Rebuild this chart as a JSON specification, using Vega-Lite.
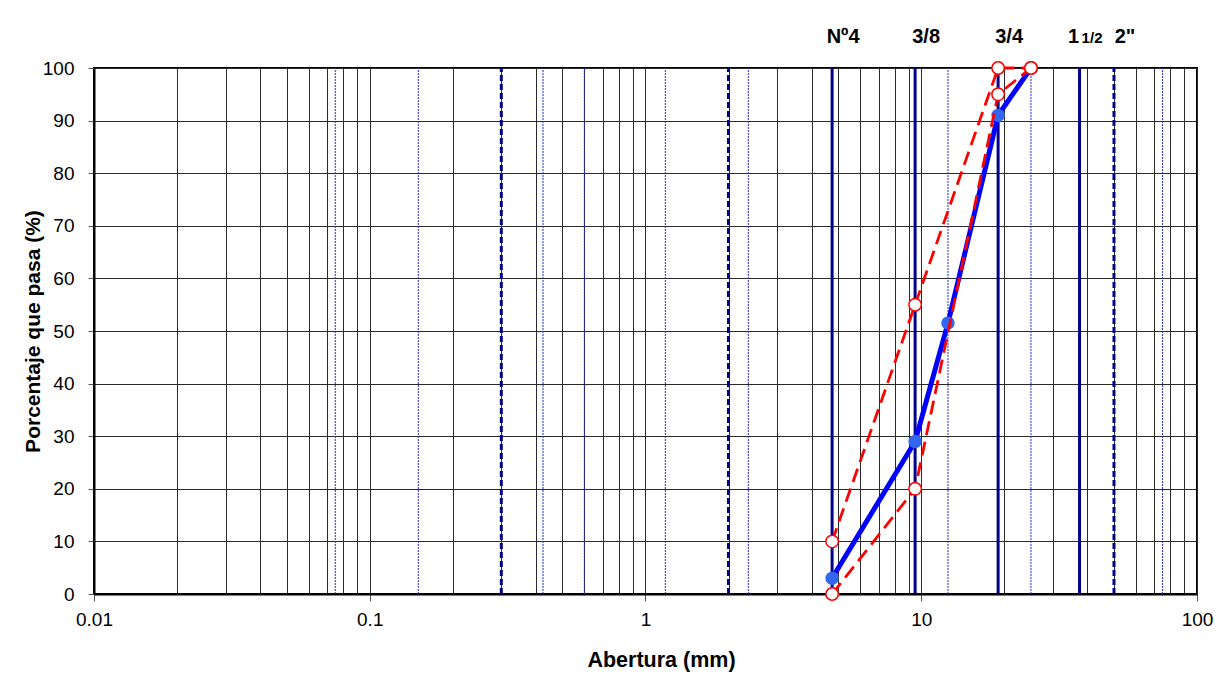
{
  "$schema": "https://vega.github.io/schema/vega-lite/v6.json",
  "width": 1103,
  "height": 526,
  "autosize": {"type": "none"},
  "padding": {"left": 94, "top": 68, "right": 33, "bottom": 92},
  "background": "white",
  "config": {
    "font": "Liberation Sans",
    "view": {"stroke": "#000000", "strokeWidth": 2},
    "axis": {"labelFont": "Liberation Sans", "titleFont": "Liberation Sans", "labelColor": "#000", "titleColor": "#000"}
  },
  "datasets": {
    "tamices": [
      {"abertura": 0.075, "tipo": "fino"},
      {"abertura": 0.15, "tipo": "fino"},
      {"abertura": 0.3, "tipo": "guion"},
      {"abertura": 0.425, "tipo": "fino"},
      {"abertura": 0.6, "tipo": "fino"},
      {"abertura": 1.18, "tipo": "fino"},
      {"abertura": 2.0, "tipo": "guion"},
      {"abertura": 2.36, "tipo": "fino"},
      {"abertura": 4.75, "tipo": "grueso"},
      {"abertura": 9.5, "tipo": "grueso"},
      {"abertura": 12.5, "tipo": "fino"},
      {"abertura": 19.0, "tipo": "grueso"},
      {"abertura": 25.0, "tipo": "fino"},
      {"abertura": 37.5, "tipo": "grueso"},
      {"abertura": 50.0, "tipo": "guion"},
      {"abertura": 75.0, "tipo": "fino"}
    ],
    "limites": [
      {"abertura": 4.75, "pasa": 10, "limite": "superior"},
      {"abertura": 9.5, "pasa": 55, "limite": "superior"},
      {"abertura": 19.0, "pasa": 100, "limite": "superior"},
      {"abertura": 25.0, "pasa": 100, "limite": "superior"},
      {"abertura": 4.75, "pasa": 0, "limite": "inferior"},
      {"abertura": 9.5, "pasa": 20, "limite": "inferior"},
      {"abertura": 19.0, "pasa": 95, "limite": "inferior"},
      {"abertura": 25.0, "pasa": 100, "limite": "inferior"}
    ],
    "granulometria": [
      {"abertura": 4.75, "pasa": 3},
      {"abertura": 9.5, "pasa": 29},
      {"abertura": 12.5, "pasa": 51.5},
      {"abertura": 19.0, "pasa": 91},
      {"abertura": 25.0, "pasa": 100}
    ],
    "etiquetas": [
      {"abertura": 4.75, "texto": "Nº4"},
      {"abertura": 9.5, "texto": "3/8"},
      {"abertura": 19.0, "texto": "3/4"},
      {"abertura": 50.0, "texto": "2\""}
    ],
    "etiqueta_uno": [{"abertura": 37.5, "texto": "1"}],
    "etiqueta_medio": [{"abertura": 37.5, "texto": "1/2"}]
  },
  "layer": [
    {
      "data": {"name": "tamices"},
      "transform": [{"filter": "datum.tipo == 'fino'"}],
      "mark": {"type": "rule", "color": "#2b2bd0", "strokeWidth": 1, "strokeDash": [2, 1]},
      "encoding": {
        "x": {
          "field": "abertura", "type": "quantitative",
          "scale": {"type": "log", "domain": [0.01, 100], "nice": false},
          "axis": {
            "title": "Abertura (mm)",
            "titleFontSize": 21.5, "titleFontWeight": "bold", "titlePadding": 20, "titleX": 567,
            "values": [0.01,0.02,0.03,0.04,0.05,0.06,0.07,0.08,0.09,0.1,0.2,0.3,0.4,0.5,0.6,0.7,0.8,0.9,1,2,3,4,5,6,7,8,9,10,20,30,40,50,60,70,80,90,100],
            "format": "~g",
            "labelExpr": "indexof([0.01,0.1,1,10,100], datum.value) >= 0 ? datum.label : ''",
            "labelFontSize": 19, "labelPadding": 9, "labelFlush": false, "labelOverlap": false,
            "tickSize": 7, "tickColor": "#555",
            "tickOpacity": {"condition": {"test": "indexof([0.01,0.1,1,10,100], datum.value) >= 0", "value": 1}, "value": 0},
            "grid": true, "gridColor": "#2a2a2a", "gridWidth": 1, "gridOpacity": 1,
            "domain": true, "domainColor": "#000", "domainWidth": 2
          }
        },
        "y": {
          "datum": 0, "type": "quantitative",
          "scale": {"domain": [0, 100], "nice": false},
          "axis": {
            "title": "Porcentaje que pasa (%)",
            "titleFontSize": 21, "titleFontWeight": "bold", "titlePadding": -1,
            "values": [0,10,20,30,40,50,60,70,80,90,100],
            "labelFontSize": 19, "labelPadding": 14,
            "tickSize": 6, "tickColor": "#555",
            "grid": true, "gridColor": "#2a2a2a", "gridWidth": 1, "gridOpacity": 1,
            "domain": true, "domainColor": "#000", "domainWidth": 2
          }
        },
        "y2": {"datum": 100}
      }
    },
    {
      "data": {"name": "tamices"},
      "transform": [{"filter": "datum.tipo == 'guion'"}],
      "mark": {"type": "rule", "color": "#000088", "strokeWidth": 3, "strokeDash": [6, 3]},
      "encoding": {"x": {"field": "abertura", "type": "quantitative"}, "y": {"datum": 0, "type": "quantitative"}, "y2": {"datum": 100}}
    },
    {
      "data": {"name": "tamices"},
      "transform": [{"filter": "datum.tipo == 'grueso'"}],
      "mark": {"type": "rule", "color": "#000088", "strokeWidth": 3},
      "encoding": {"x": {"field": "abertura", "type": "quantitative"}, "y": {"datum": 0, "type": "quantitative"}, "y2": {"datum": 100}}
    },
    {
      "data": {"name": "granulometria"},
      "mark": {"type": "line", "color": "#0000ff", "strokeWidth": 5},
      "encoding": {"x": {"field": "abertura", "type": "quantitative"}, "y": {"field": "pasa", "type": "quantitative"}}
    },
    {
      "data": {"name": "granulometria"},
      "mark": {"type": "point", "shape": "circle", "filled": true, "color": "#3366ee", "size": 180, "opacity": 1},
      "encoding": {"x": {"field": "abertura", "type": "quantitative"}, "y": {"field": "pasa", "type": "quantitative"}}
    },
    {
      "data": {"name": "limites"},
      "mark": {"type": "line", "color": "#ff0000", "strokeWidth": 2.8, "strokeDash": [14, 7]},
      "encoding": {"x": {"field": "abertura", "type": "quantitative"}, "y": {"field": "pasa", "type": "quantitative"}, "detail": {"field": "limite"}}
    },
    {
      "data": {"name": "limites"},
      "mark": {"type": "point", "shape": "circle", "filled": true, "fill": "#ffffff", "stroke": "#ff0000", "strokeWidth": 1.5, "size": 155, "opacity": 1},
      "encoding": {"x": {"field": "abertura", "type": "quantitative"}, "y": {"field": "pasa", "type": "quantitative"}}
    },
    {
      "data": {"name": "etiquetas"},
      "mark": {"type": "text", "fontSize": 20, "fontWeight": "bold", "align": "center", "baseline": "alphabetic", "dx": 11, "color": "#000"},
      "encoding": {"x": {"field": "abertura", "type": "quantitative"}, "y": {"datum": 104.7, "type": "quantitative"}, "text": {"field": "texto"}}
    },
    {
      "data": {"name": "etiqueta_uno"},
      "mark": {"type": "text", "fontSize": 20, "fontWeight": "bold", "align": "center", "baseline": "alphabetic", "dx": -6, "color": "#000"},
      "encoding": {"x": {"field": "abertura", "type": "quantitative"}, "y": {"datum": 104.7, "type": "quantitative"}, "text": {"field": "texto"}}
    },
    {
      "data": {"name": "etiqueta_medio"},
      "mark": {"type": "text", "fontSize": 15, "fontWeight": "bold", "align": "center", "baseline": "alphabetic", "dx": 12.5, "color": "#000"},
      "encoding": {"x": {"field": "abertura", "type": "quantitative"}, "y": {"datum": 104.7, "type": "quantitative"}, "text": {"field": "texto"}}
    }
  ]
}
